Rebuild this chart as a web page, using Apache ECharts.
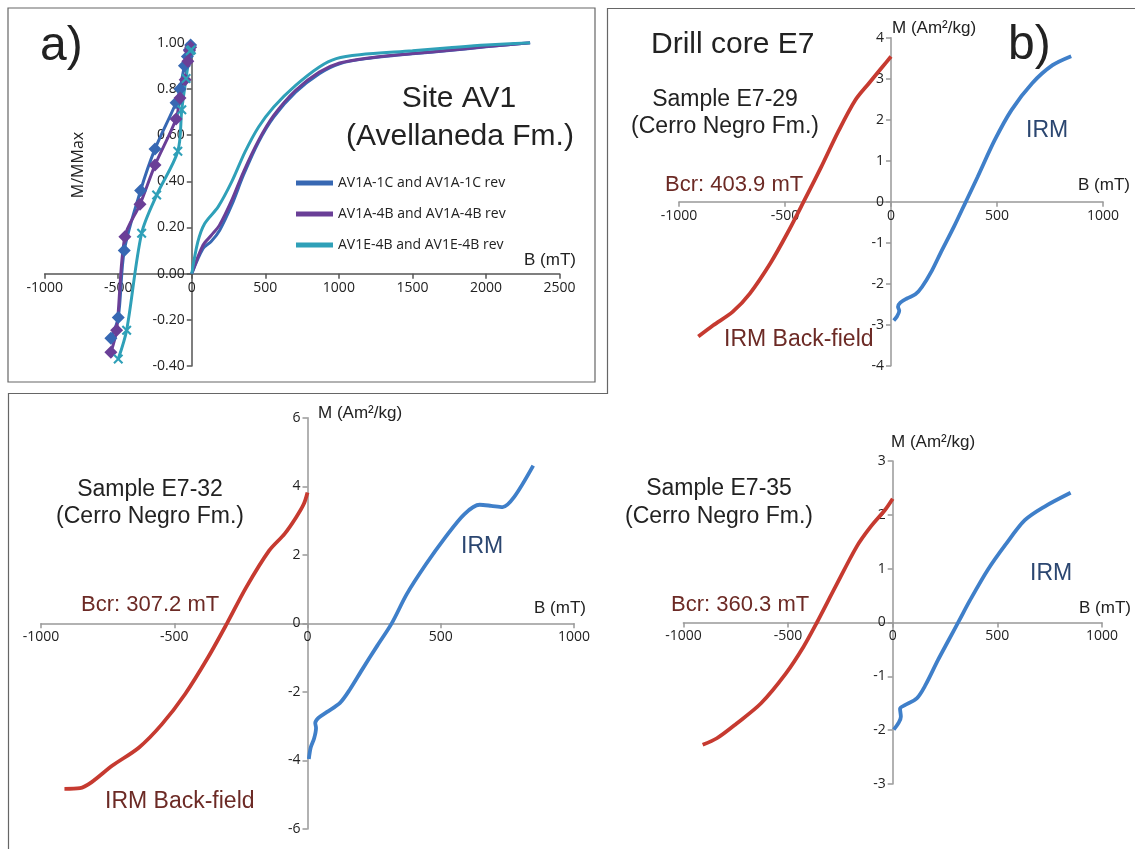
<!DOCTYPE html>
<html>
<head>
<meta charset="utf-8">
<script src="https://cdn.jsdelivr.net/npm/echarts@6/dist/echarts.min.js"></script>
<style>
  html, body { margin: 0; padding: 0; background: #fff; }
  #main { width: 1135px; height: 849px; }
</style>
</head>
<body>
<div id="main"></div>
<script>
// panel a) site AV1, normalised IRM curves (B in mT, M/Mmax)
const seriesNames = ['AV1A-1C and AV1A-1C rev', 'AV1A-4B and AV1A-4B rev', 'AV1E-4B and AV1E-4B rev'];
const seriesColors = ['#3768b3', '#6a3f97', '#2fa0b8'];

const rev1x = [-550, -500, -459, -348, -250, -107, -80, -50, -30, -16, -8];
const rev1y = [-0.28, -0.19, 0.10, 0.36, 0.54, 0.74, 0.80, 0.90, 0.94, 0.97, 0.99];
const rev2x = [-550, -511, -455, -352, -250, -107, -80, -45, -27, -16, -8];
const rev2y = [-0.34, -0.245, 0.16, 0.30, 0.47, 0.67, 0.76, 0.84, 0.92, 0.965, 0.98];
const rev3x = [-500, -443, -341, -239, -95, -68, -39, -11, -3];
const rev3y = [-0.37, -0.245, 0.175, 0.34, 0.53, 0.71, 0.845, 0.965, 0.97];

const acq1x = [0, 76, 133, 190, 271, 351, 454, 557, 706, 867, 1005, 1188, 1500, 1750, 2000, 2300];
const acq1y = [0, 0.108, 0.14, 0.188, 0.296, 0.426, 0.57, 0.678, 0.786, 0.866, 0.909, 0.931, 0.952, 0.966, 0.982, 1.0];
const acq2x = [0, 76, 133, 190, 271, 351, 454, 557, 706, 867, 1005, 1188, 1500, 1750, 2000, 2300];
const acq2y = [0, 0.123, 0.166, 0.212, 0.317, 0.44, 0.577, 0.685, 0.794, 0.873, 0.912, 0.933, 0.953, 0.967, 0.983, 1.0];
const acq3x = [0, 41, 87, 179, 271, 362, 454, 557, 706, 867, 982, 1142, 1500, 1750, 2000, 2300];
const acq3y = [0, 0.137, 0.216, 0.289, 0.397, 0.527, 0.635, 0.722, 0.815, 0.895, 0.931, 0.948, 0.965, 0.978, 0.99, 1.0];

// panel b) drill core E7, back-field and IRM (B in mT, M in Am2/kg)
const bf29x = [-909, -840, -746, -666, -569, -489, -412, -329, -249, -168, -104, -40, 0];
const bf29y = [-3.29, -3.02, -2.68, -2.24, -1.50, -0.77, 0, 0.85, 1.71, 2.48, 2.89, 3.29, 3.54];
const irm29x = [13, 28, 39, 33, 44, 75, 115, 146, 193, 233, 297, 353, 409, 489, 569, 666, 762, 850];
const irm29y = [-2.90, -2.80, -2.66, -2.56, -2.46, -2.36, -2.26, -2.08, -1.68, -1.26, -0.61, 0, 0.61, 1.50, 2.24, 2.89, 3.33, 3.55];

const bf32x = [-912, -854, -811, -732, -632, -546, -459, -373, -302, -230, -144, -86, -43, -14, 0];
const bf32y = [-4.83, -4.81, -4.64, -4.15, -3.62, -2.94, -2.06, -0.99, 0, 1.05, 2.12, 2.61, 3.09, 3.48, 3.82];
const irm32x = [5, 12, 25, 32, 29, 41, 72, 122, 159, 205, 262, 316, 373, 445, 517, 589, 646, 689, 732, 775, 847];
const irm32y = [-3.96, -3.62, -3.35, -3.05, -2.91, -2.76, -2.59, -2.32, -1.93, -1.35, -0.65, 0, 0.86, 1.73, 2.51, 3.19, 3.46, 3.43, 3.39, 3.68, 4.60];

const bf35x = [-908, -840, -747, -629, -511, -426, -362, -274, -172, -105, -37, 0];
const bf35y = [-2.27, -2.15, -1.88, -1.50, -0.95, -0.45, 0, 0.66, 1.41, 1.78, 2.09, 2.30];
const irm35x = [5, 30, 39, 35, 56, 115, 157, 216, 267, 318, 369, 453, 538, 631, 724, 850];
const irm35y = [-1.99, -1.85, -1.75, -1.60, -1.54, -1.41, -1.16, -0.70, -0.33, 0.04, 0.41, 0.97, 1.44, 1.90, 2.15, 2.41];

const bfColor = '#c63a30';
const irmColor = '#3f7fc9';
const bfText = '#6c2a25';
const irmText = '#2b4670';

function pairs(xs, ys) {
  var out = [];
  for (var i = 0; i < xs.length; i++) out.push([xs[i], ys[i]]);
  return out;
}

var chart = echarts.init(document.getElementById('main'));

var tickFont = { color: '#222', fontSize: 14, fontFamily: 'Open Sans' };
var bigFont = 'Liberation Sans';

// plot boxes: [left, top, right, bottom] in px, plus axis ranges
var boxes = [
  { l: 44.7, t: 42.7, r: 559.5, b: 366, x: [-1000, 2500, 500], y: [-0.4, 1.0, 0.2], c: '#555' },
  { l: 679, t: 37.7, r: 1103, b: 365.7, x: [-1000, 1000, 500], y: [-4, 4, 1], c: '#999' },
  { l: 41, t: 417.7, r: 574, b: 829, x: [-1000, 1000, 500], y: [-6, 6, 2], c: '#999' },
  { l: 683.4, t: 461, r: 1102, b: 784, x: [-1000, 1000, 500], y: [-3, 3, 1], c: '#999' }
];

var grids = [], xAxes = [], yAxes = [];
boxes.forEach(function (b, i) {
  grids.push({ left: b.l, top: b.t, width: b.r - b.l, height: b.b - b.t });
  // axes cross at zero: shift them in from the grid edge
  var xoff = -(b.b - b.t) * (0 - b.y[0]) / (b.y[1] - b.y[0]);
  var yoff = -(b.r - b.l) * (0 - b.x[0]) / (b.x[1] - b.x[0]);
  xAxes.push({
    gridIndex: i, type: 'value', min: b.x[0], max: b.x[1], interval: b.x[2],
    position: 'bottom', offset: xoff,
    axisLine: { onZero: false, lineStyle: { color: b.c, width: 1.5 } },
    axisTick: { length: 5, lineStyle: { color: b.c, width: 1.5 } },
    axisLabel: Object.assign({ margin: 7, formatter: function (v) { return String(v); } }, tickFont),
    splitLine: { show: false }
  });
  yAxes.push({
    gridIndex: i, type: 'value', min: b.y[0], max: b.y[1], interval: b.y[2],
    position: 'left', offset: yoff,
    axisLine: { onZero: false, lineStyle: { color: b.c, width: 1.5 } },
    axisTick: { length: 5, lineStyle: { color: b.c, width: 1.5 } },
    axisLabel: Object.assign({ margin: 7,
      formatter: i === 0 ? function (v) { return v.toFixed(2); } : function (v) { return String(v); } }, tickFont),
    splitLine: { show: false }
  });
});

function curve(grid, data, color) {
  return {
    type: 'line', xAxisIndex: grid, yAxisIndex: grid, data: data,
    symbol: 'none', smooth: 0.3, silent: true,
    lineStyle: { color: color, width: 3.8 }, itemStyle: { color: color }
  };
}

var xMark = 'path://M0,1.5L1.5,0L5,3.5L8.5,0L10,1.5L6.5,5L10,8.5L8.5,10L5,6.5L1.5,10L0,8.5L3.5,5Z';
var revSets = [[rev1x, rev1y, 'diamond', 13], [rev2x, rev2y, 'diamond', 13], [rev3x, rev3y, xMark, 10]];
var acqSets = [[acq1x, acq1y], [acq2x, acq2y], [acq3x, acq3y]];

var series = [];
for (var i = 0; i < 3; i++) {
  series.push({
    name: seriesNames[i], type: 'line', xAxisIndex: 0, yAxisIndex: 0,
    data: pairs(revSets[i][0], revSets[i][1]),
    symbol: revSets[i][2], symbolSize: revSets[i][3], smooth: 0.3,
    lineStyle: { color: seriesColors[i], width: 3 }, itemStyle: { color: seriesColors[i] }
  });
  series.push({
    name: seriesNames[i], type: 'line', xAxisIndex: 0, yAxisIndex: 0,
    data: pairs(acqSets[i][0], acqSets[i][1]),
    symbol: 'none', smooth: 0.3,
    lineStyle: { color: seriesColors[i], width: 3 }, itemStyle: { color: seriesColors[i] }
  });
}
series.push(curve(1, pairs(bf29x, bf29y), bfColor));
series.push(curve(1, pairs(irm29x, irm29y), irmColor));
series.push(curve(2, pairs(bf32x, bf32y), bfColor));
series.push(curve(2, pairs(irm32x, irm32y), irmColor));
series.push(curve(3, pairs(bf35x, bf35y), bfColor));
series.push(curve(3, pairs(irm35x, irm35y), irmColor));

function txt(x, y, text, size, color, align) {
  return {
    type: 'text', x: x, y: y, silent: true,
    style: { text: text, fontSize: size, fontFamily: bigFont, fill: color || '#222',
      textAlign: align || 'left', textVerticalAlign: 'middle' }
  };
}

var graphics = [
  { type: 'rect', shape: { x: 8, y: 8, width: 587, height: 374 }, style: { fill: 'none', stroke: '#666', lineWidth: 1.2 } },
  { type: 'polyline', shape: { points: [[1135, 8.5], [607.5, 8.5], [607.5, 393.5], [8.5, 393.5], [8.5, 849]] },
    style: { fill: 'none', stroke: '#666', lineWidth: 1.2 } },

  txt(40, 47, 'a)', 48),
  txt(459, 99, 'Site AV1', 30, '#222', 'center'),
  txt(460, 137, '(Avellaneda Fm.)', 30, '#222', 'center'),
  txt(524, 260, 'B (mT)', 17),
  { type: 'text', x: 78, y: 165, rotation: Math.PI / 2, silent: true,
    style: { text: 'M/MMax', fontSize: 16, fontFamily: 'Open Sans', fill: '#222', textAlign: 'center', textVerticalAlign: 'middle' } },

  txt(651, 45, 'Drill core E7', 30),
  txt(1008, 46, 'b)', 48),
  txt(725, 100, 'Sample E7-29', 23, '#222', 'center'),
  txt(725, 127, '(Cerro Negro Fm.)', 23, '#222', 'center'),
  txt(665, 185, 'Bcr: 403.9 mT', 22, bfText),
  txt(1026, 131, 'IRM', 23, irmText),
  txt(724, 340, 'IRM Back-field', 23, bfText),
  txt(892, 28, 'M (Am²/kg)', 17),
  txt(1078, 185, 'B (mT)', 17),

  txt(150, 490, 'Sample E7-32', 23, '#222', 'center'),
  txt(150, 517, '(Cerro Negro Fm.)', 23, '#222', 'center'),
  txt(81, 605, 'Bcr: 307.2 mT', 22, bfText),
  txt(461, 547, 'IRM', 23, irmText),
  txt(105, 802, 'IRM Back-field', 23, bfText),
  txt(318, 413, 'M (Am²/kg)', 17),
  txt(534, 608, 'B (mT)', 17),

  txt(719, 489, 'Sample E7-35', 23, '#222', 'center'),
  txt(719, 517, '(Cerro Negro Fm.)', 23, '#222', 'center'),
  txt(671, 605, 'Bcr: 360.3 mT', 22, bfText),
  txt(1030, 574, 'IRM', 23, irmText),
  txt(891, 442, 'M (Am²/kg)', 17),
  txt(1079, 608, 'B (mT)', 17)
];

chart.setOption({
  animation: false,
  backgroundColor: '#fff',
  grid: grids,
  xAxis: xAxes,
  yAxis: yAxes,
  legend: {
    data: seriesNames, orient: 'vertical', left: 291, top: 171,
    icon: 'rect', itemWidth: 37, itemHeight: 5, itemGap: 17,
    textStyle: { fontSize: 14, fontFamily: 'Open Sans', color: '#222' },
    selectedMode: false
  },
  graphic: graphics,
  series: series
});
</script>
</body>
</html>
